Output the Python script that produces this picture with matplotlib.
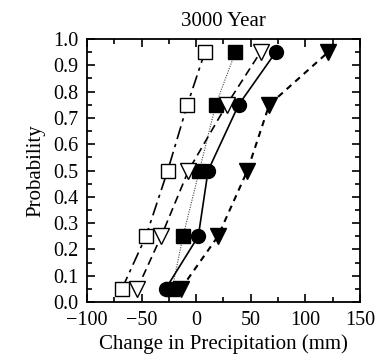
import matplotlib
matplotlib.use("Agg")
import matplotlib.pyplot as plt
import matplotlib.transforms as mtransforms
from matplotlib.ticker import MultipleLocator, FormatStrFormatter

plt.rcParams['font.family'] = ['Liberation Serif', 'DejaVu Serif']

# Cumulative probability levels shared by every series
prob = [0.05, 0.25, 0.5, 0.75, 0.95]

# Precipitation change (mm) at each probability level
open_squares = [-68, -46, -26, -8, 8]
filled_squares = [-22, -12, 3, 18, 36]
open_triangles = [-54, -32, -7, 28, 59]
filled_circles = [-28, 2, 11, 39, 73]
filled_triangles = [-14, 20, 47, 67, 121]

title = "3000 Year"
xlabel = "Change in Precipitation (mm)"
ylabel = "Probability"

fig = plt.figure(figsize=(3.78, 3.64), dpi=100)
ax = fig.add_axes([0.230, 0.170, 0.722, 0.723])

ms = 10
ax.plot(filled_squares, prob, linestyle=(0, (1, 1.2)), color='#444444', lw=0.8,
        marker='s', ms=ms, mfc='black', mec='black', zorder=3)
ax.plot(filled_circles, prob, linestyle='-', color='black', lw=1.2,
        marker='o', ms=ms, mfc='black', mec='black', zorder=3)
ax.plot(filled_triangles, prob, linestyle=(0, (3, 2.5)), color='black', lw=1.5,
        marker='v', ms=ms + 1, mfc='black', mec='black', zorder=3)
ax.plot(open_triangles, prob, linestyle=(0, (5, 3)), color='black', lw=1.2,
        marker='v', ms=ms + 1, mfc='white', mec='black', mew=1.0, zorder=4)
ax.plot(open_squares, prob, linestyle=(0, (8, 3, 2, 3)), color='black', lw=1.2,
        marker='s', ms=ms, mfc='white', mec='black', mew=1.0, zorder=4)

ax.set_xlim(-100, 150)
ax.set_ylim(0.0, 1.0)
ax.xaxis.set_major_locator(MultipleLocator(50))
ax.xaxis.set_minor_locator(MultipleLocator(25))
ax.yaxis.set_major_locator(MultipleLocator(0.1))
ax.yaxis.set_minor_locator(MultipleLocator(0.05))
ax.yaxis.set_major_formatter(FormatStrFormatter('%.1f'))

ax.tick_params(which='both', direction='in', top=True, right=True,
               labelsize=14.5, width=1.2, colors='black')
ax.tick_params(which='major', length=6)
ax.tick_params(which='minor', length=3.5)
ax.tick_params(axis='x', which='major', pad=6.5)
ax.tick_params(axis='y', which='major', pad=6)
for s in ax.spines.values():
    s.set_linewidth(1.3)

ax.set_title(title, fontsize=15, pad=9)
ax.set_xlabel(xlabel, fontsize=15, labelpad=3)
ax.set_ylabel(ylabel, fontsize=15, labelpad=6)

# nudge the lowest y label up so it clears the x labels
fig.canvas.draw()
lowest = ax.yaxis.get_majorticklabels()[0]
lowest.set_transform(lowest.get_transform() +
                     mtransforms.ScaledTranslation(0, 2 / 72, fig.dpi_scale_trans))

fig.savefig("out.png", dpi=100)
